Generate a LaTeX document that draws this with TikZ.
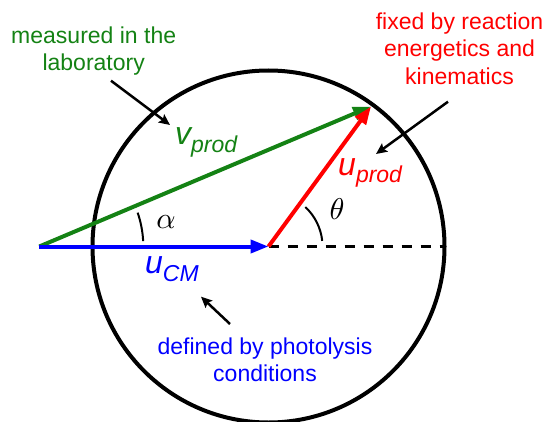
\documentclass[tikz,border=0pt]{standalone}
\usepackage{fontspec}
\setmainfont{Liberation Sans}
\usetikzlibrary{arrows.meta}
\definecolor{grn}{RGB}{20,130,20}
\definecolor{rd}{RGB}{255,0,0}
\definecolor{bl}{RGB}{0,0,255}
\newcommand{\veclabel}[3]{{\fontsize{#3}{#3}\selectfont\itshape #1}\raisebox{-8pt}{\fontsize{23}{23}\selectfont\itshape #2}}
\begin{document}
\begin{tikzpicture}[x=1pt,y=-1pt,
  vec/.style={line width=4pt,-{Triangle[length=18pt,width=13pt]}},
  ptr/.style={line width=2.5pt,-{Stealth[length=11pt,width=10pt,inset=2pt]}},
  note/.style={align=center,font=\fontsize{23}{27.5}\selectfont,inner sep=0pt,anchor=north},
  lab/.style={inner sep=0pt,anchor=base west},
  ang/.style={inner sep=0pt,font=\normalsize}
]
\useasboundingbox (0,0) rectangle (545,422);
% geometry
\coordinate (C) at (268.5,246.5);
\coordinate (O) at (39.3,246.5);
\coordinate (T) at (371,106.5);
\coordinate (E) at (444.5,246.5);
% circle
\node[circle,draw,line width=4pt,minimum size=352pt,inner sep=0pt] (circ) at (C) {};
% dashed baseline
\draw[line width=3pt,dash pattern=on 10pt off 9pt] (C) -- (E);
% vectors
\draw[vec,grn] (O) -- (T);
\draw[vec,bl] (O) -- (C);
\draw[vec,rd] (C) -- (T);
% angle arcs
\draw[line width=2pt] (O) ++(-3:104) arc (-3:-19:104);
\draw[line width=2pt] (C) ++(-6:54) arc (-6:-47:54);
\node[ang] (alpha) at (166,222) {\scalebox{3}{$\alpha$}};
\node[ang] (theta) at (337,209) {\scalebox{3}{$\theta$}};
% vector labels
\node[lab,text=grn] (vprod) at (175,145) {\veclabel{v}{prod}{32}};
\node[lab,text=rd] (uprod) at (338,175) {\veclabel{u}{prod}{32}};
\node[lab,text=bl] (ucm) at (145,273.3) {\veclabel{u}{CM}{32}};
% notes
\node[note,text=grn] (meas) at (93.7,26.5) {measured in the\\laboratory};
\node[note,text=rd] (fixed) at (459.5,12.5) {fixed by reaction\\energetics and\\kinematics};
\node[note,text=bl] (defd) at (265,337.5) {defined by photolysis\\conditions};
% pointers
\coordinate (p1s) at (111,80.7);
\coordinate (p1e) at (170,125);
\coordinate (p2s) at (448,101.7);
\coordinate (p2e) at (376,154);
\coordinate (p3s) at (230,324);
\coordinate (p3e) at (201,296.7);
\draw[ptr] (p1s) -- (p1e);
\draw[ptr] (p2s) -- (p2e);
\draw[ptr] (p3s) -- (p3e);
\end{tikzpicture}
\end{document}
